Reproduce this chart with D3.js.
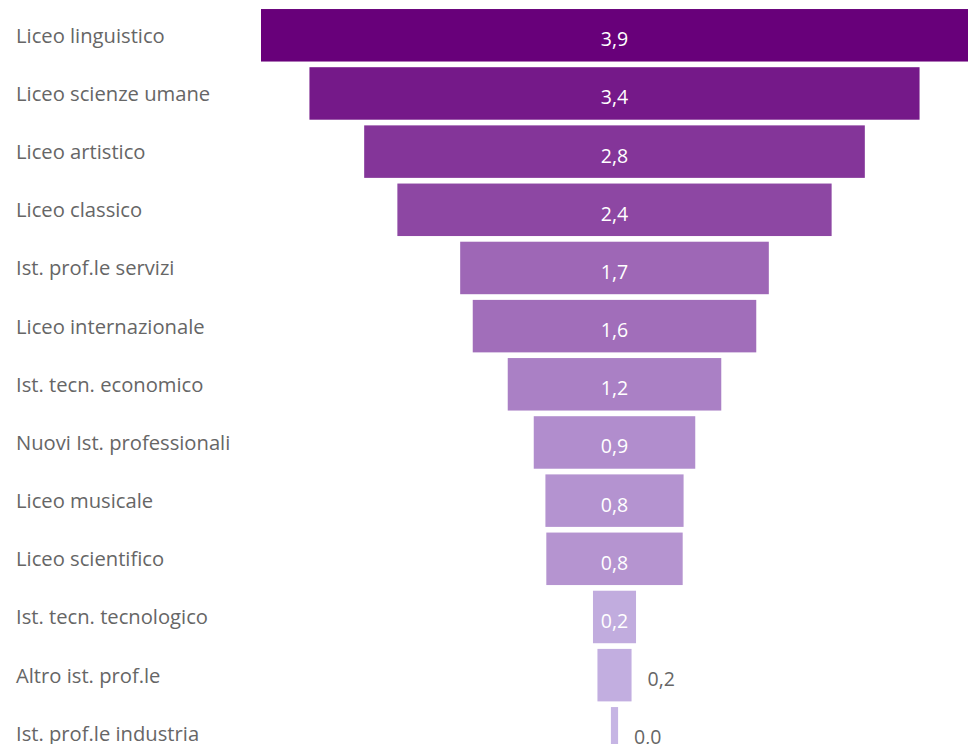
<!DOCTYPE html>
<html>
<head>
<meta charset="utf-8">
<script src="https://cdn.jsdelivr.net/npm/d3@7"></script>
<style>
  html, body { margin: 0; padding: 0; background: #ffffff; }
  svg { display: block; }
</style>
</head>
<body>
<div id="chart"></div>
<script>
// Funnel: one centred bar per school type, widest first
const categories = [
  "Liceo linguistico",
  "Liceo scienze umane",
  "Liceo artistico",
  "Liceo classico",
  "Ist. prof.le servizi",
  "Liceo internazionale",
  "Ist. tecn. economico",
  "Nuovi Ist. professionali",
  "Liceo musicale",
  "Liceo scientifico",
  "Ist. tecn. tecnologico",
  "Altro ist. prof.le",
  "Ist. prof.le industria"
];
const values = [3.94, 3.40, 2.79, 2.42, 1.72, 1.58, 1.19, 0.90, 0.77, 0.76, 0.24, 0.19, 0.04];

const width = 970, height = 744;
const funnelLeft = 261, funnelRight = 968;
const centre = (funnelLeft + funnelRight) / 2;

const itLocale = d3.formatLocale({ decimal: ",", thousands: ".", grouping: [3], currency: ["€", ""] });
const fmt = itLocale.format(".1f");

const data = categories.map((c, i) => ({ cat: c, value: values[i] }));

const svg = d3.select("#chart").append("svg")
  .attr("width", width)
  .attr("height", height);

const y = d3.scaleBand()
  .domain(categories)
  .range([6.2, 762.4])
  .paddingInner(0.0975)
  .paddingOuter(0.04875);

const w = d3.scaleLinear()
  .domain([0, d3.max(values)])
  .range([0, funnelRight - funnelLeft]);

const colour = d3.scaleLinear()
  .domain([0, d3.max(values)])
  .range(["#c7b7e5", "#68007a"])
  .interpolate(d3.interpolateRgb);

const fontFamily = "'Open Sans', 'Noto Sans', sans-serif";

// Category labels on the left
svg.append("g")
  .selectAll("text")
  .data(data)
  .join("text")
  .attr("x", 16)
  .attr("y", d => y(d.cat) + y.bandwidth() / 2 + 7.5)
  .attr("font-family", fontFamily)
  .attr("font-size", 20.2)
  .attr("fill", "#666666")
  .text(d => d.cat);

// Bars
svg.append("g")
  .selectAll("rect")
  .data(data)
  .join("rect")
  .attr("x", d => centre - w(d.value) / 2)
  .attr("y", d => y(d.cat))
  .attr("width", d => w(d.value))
  .attr("height", y.bandwidth())
  .attr("fill", d => colour(d.value));

// Value labels: inside the bar when it fits, otherwise to its right
const labelSize = 19.5;
const labels = svg.append("g")
  .selectAll("text")
  .data(data)
  .join("text")
  .attr("font-family", fontFamily)
  .attr("font-size", labelSize)
  .attr("y", d => y(d.cat) + y.bandwidth() / 2 + 11)
  .text(d => fmt(d.value));

labels.each(function(d) {
  const tw = this.getComputedTextLength();
  const bw = w(d.value);
  const sel = d3.select(this);
  if (bw >= tw + 12) {
    sel.attr("x", centre).attr("text-anchor", "middle").attr("fill", "#ffffff");
  } else {
    sel.attr("x", centre + bw / 2 + 16).attr("text-anchor", "start").attr("fill", "#666666");
  }
});
</script>
</body>
</html>
